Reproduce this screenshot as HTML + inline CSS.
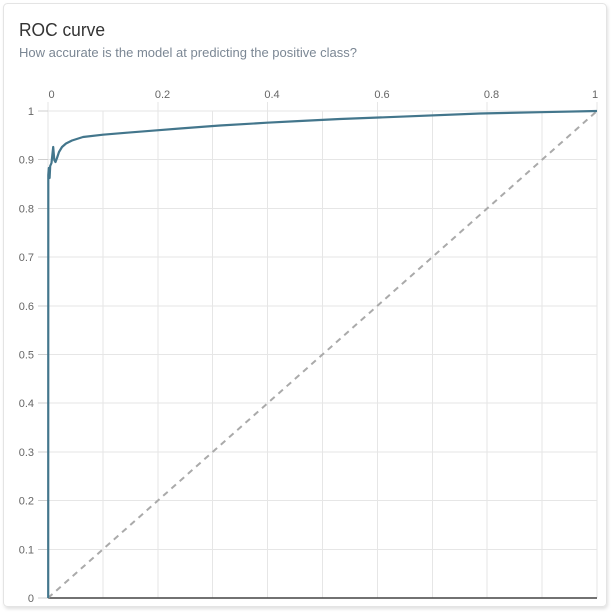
<!DOCTYPE html>
<html><head><meta charset="utf-8"><style>
html,body{margin:0;padding:0;background:#fff;width:612px;height:612px;overflow:hidden}
svg{display:block}
text{font-family:"Liberation Sans",sans-serif}
</style></head><body>
<svg width="612" height="612" viewBox="0 0 612 612" xmlns="http://www.w3.org/2000/svg">
<defs>
<filter id="sh" x="-5%" y="-5%" width="110%" height="110%">
<feDropShadow dx="1" dy="2" stdDeviation="1.5" flood-color="#000" flood-opacity="0.12"/>
</filter>
</defs>
<rect x="3.5" y="3.5" width="603" height="603" rx="4" fill="#fff" stroke="#e4e4e4" filter="url(#sh)"/>
<text x="19" y="36" font-size="18" fill="#333" textLength="86" lengthAdjust="spacingAndGlyphs">ROC curve</text>
<text x="19" y="57" font-size="12.5" fill="#7b8794" textLength="338" lengthAdjust="spacingAndGlyphs">How accurate is the model at predicting the positive class?</text>
<g stroke="#e6e6e6" stroke-width="1" shape-rendering="crispEdges">
<line x1="48" y1="111" x2="597" y2="111"/><line x1="48" y1="159.7" x2="597" y2="159.7"/><line x1="48" y1="208.4" x2="597" y2="208.4"/><line x1="48" y1="257.1" x2="597" y2="257.1"/><line x1="48" y1="305.8" x2="597" y2="305.8"/><line x1="48" y1="354.5" x2="597" y2="354.5"/><line x1="48" y1="403.2" x2="597" y2="403.2"/><line x1="48" y1="451.9" x2="597" y2="451.9"/><line x1="48" y1="500.6" x2="597" y2="500.6"/><line x1="48" y1="549.3" x2="597" y2="549.3"/>
<line x1="48" y1="111" x2="48" y2="598"/><line x1="102.9" y1="111" x2="102.9" y2="598"/><line x1="157.8" y1="102" x2="157.8" y2="598"/><line x1="212.7" y1="111" x2="212.7" y2="598"/><line x1="267.6" y1="102" x2="267.6" y2="598"/><line x1="322.5" y1="111" x2="322.5" y2="598"/><line x1="377.4" y1="102" x2="377.4" y2="598"/><line x1="432.3" y1="111" x2="432.3" y2="598"/><line x1="487.2" y1="102" x2="487.2" y2="598"/><line x1="542.1" y1="111" x2="542.1" y2="598"/><line x1="597" y1="102" x2="597" y2="598"/><line x1="48" y1="102" x2="48" y2="111"/>
</g>
<g stroke="#cfcfcf" stroke-width="1" shape-rendering="crispEdges">
<line x1="38" y1="111" x2="48" y2="111"/><line x1="38" y1="159.7" x2="48" y2="159.7"/><line x1="38" y1="208.4" x2="48" y2="208.4"/><line x1="38" y1="257.1" x2="48" y2="257.1"/><line x1="38" y1="305.8" x2="48" y2="305.8"/><line x1="38" y1="354.5" x2="48" y2="354.5"/><line x1="38" y1="403.2" x2="48" y2="403.2"/><line x1="38" y1="451.9" x2="48" y2="451.9"/><line x1="38" y1="500.6" x2="48" y2="500.6"/><line x1="38" y1="549.3" x2="48" y2="549.3"/><line x1="38" y1="598" x2="48" y2="598"/>
</g>
<g font-size="11" fill="#666" text-anchor="end">
<text x="34" y="115">1</text><text x="34" y="163.7">0.9</text><text x="34" y="212.4">0.8</text><text x="34" y="261.1">0.7</text><text x="34" y="309.8">0.6</text><text x="34" y="358.5">0.5</text><text x="34" y="407.2">0.4</text><text x="34" y="455.9">0.3</text><text x="34" y="504.6">0.2</text><text x="34" y="553.3">0.1</text><text x="34" y="602">0</text>
</g>
<g font-size="11" fill="#666" text-anchor="middle">
<text x="51.5" y="98">0</text><text x="162.5" y="98">0.2</text><text x="272" y="98">0.4</text><text x="382" y="98">0.6</text><text x="491.5" y="98">0.8</text><text x="595" y="98">1</text>
</g>
<line x1="48" y1="598" x2="597" y2="598" stroke="#444" stroke-width="1.5"/>
<line x1="48" y1="598" x2="597" y2="111" stroke="#aaa" stroke-width="2" stroke-dasharray="6,5"/>
<path d="M48.2,598 L48.3,175 L48.8,168 L49.6,178 L50.2,166 L51.5,163 L53.2,147 L54.3,160 L55.5,162 L57,158 L59,152 L62,147 L66,143.5 L72,140.5 L83,137 L103,134.7 L127,132.7 L157,130.3 L180,128.5 L220,125.5 L267,122.7 L300,121 L340,119 L400,116.7 L480,113.5 L540,112.2 L597,111" fill="none" stroke="#43768c" stroke-width="2.2" stroke-linejoin="round"/>
</svg>
</body></html>
